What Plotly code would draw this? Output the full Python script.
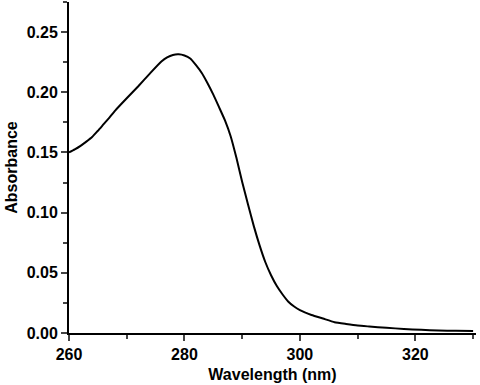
import plotly.graph_objects as go

wavelength = [260, 261, 262, 263, 264, 265, 266, 267, 268, 270, 272, 274, 276, 277, 278,
              279, 280, 281, 282, 283, 284, 285, 286, 287, 288, 289, 290, 291, 292, 293,
              294, 295, 296, 297, 298, 299, 300, 302, 304, 306, 308, 310, 312, 315, 318,
              321, 324, 327, 330]
absorbance = [0.150, 0.1525, 0.1555, 0.159, 0.1628, 0.168, 0.1735, 0.179, 0.1848, 0.195,
              0.205, 0.2155, 0.2255, 0.229, 0.231, 0.2315, 0.2305, 0.228, 0.2225, 0.216,
              0.2075, 0.198, 0.1875, 0.1768, 0.1635, 0.1455, 0.1255, 0.107, 0.089, 0.073, 0.059,
              0.048, 0.039, 0.032, 0.026, 0.022, 0.019, 0.015, 0.012, 0.009, 0.0075, 0.0062,
              0.0054, 0.0043, 0.0034, 0.0026, 0.0021, 0.0018, 0.0016]

x_ticks = [260, 280, 300, 320]
y_ticks = [0.00, 0.05, 0.10, 0.15, 0.20, 0.25]
y_tick_labels = ["0.00", "0.05", "0.10", "0.15", "0.20", "0.25"]

fig = go.Figure()
fig.add_trace(go.Scatter(x=wavelength, y=absorbance, mode="lines",
                         line=dict(color="black", width=2, shape="spline", smoothing=0.5),
                         showlegend=False))

font_fam = "Liberation Sans, Arial, sans-serif"
fig.update_layout(
    width=480, height=385,
    margin=dict(l=69, r=4, t=2, b=52),
    plot_bgcolor="white", paper_bgcolor="white",
    font=dict(family=font_fam, color="black"),
    xaxis=dict(range=[260, 330.5], tickvals=x_ticks, ticks="outside", ticklen=6, tickwidth=2,
               showline=True, linewidth=2, linecolor="black", showgrid=False, zeroline=False,
               automargin=False,
               tickfont=dict(size=16, family=font_fam, weight="bold"),
               minor=dict(ticks="outside", ticklen=4, tickwidth=2, dtick=10, tick0=260, showgrid=False),
               title=dict(text="<b>Wavelength (nm)</b>", font=dict(size=16), standoff=7)),
    yaxis=dict(range=[0, 0.275], tickvals=y_ticks, ticktext=y_tick_labels, ticks="outside",
               ticklen=6, tickwidth=2, showline=True, linewidth=2, linecolor="black",
               showgrid=False, zeroline=False, automargin=False,
               tickfont=dict(size=16, family=font_fam, weight="bold"),
               minor=dict(ticks="outside", ticklen=4, tickwidth=2, dtick=0.025, tick0=0, showgrid=False),
               title=dict(text="<b>Absorbance</b>", font=dict(size=16), standoff=5)),
)

fig.write_html("out.html", config={"displayModeBar": False},
               post_script="document.body.style.margin='0';")
